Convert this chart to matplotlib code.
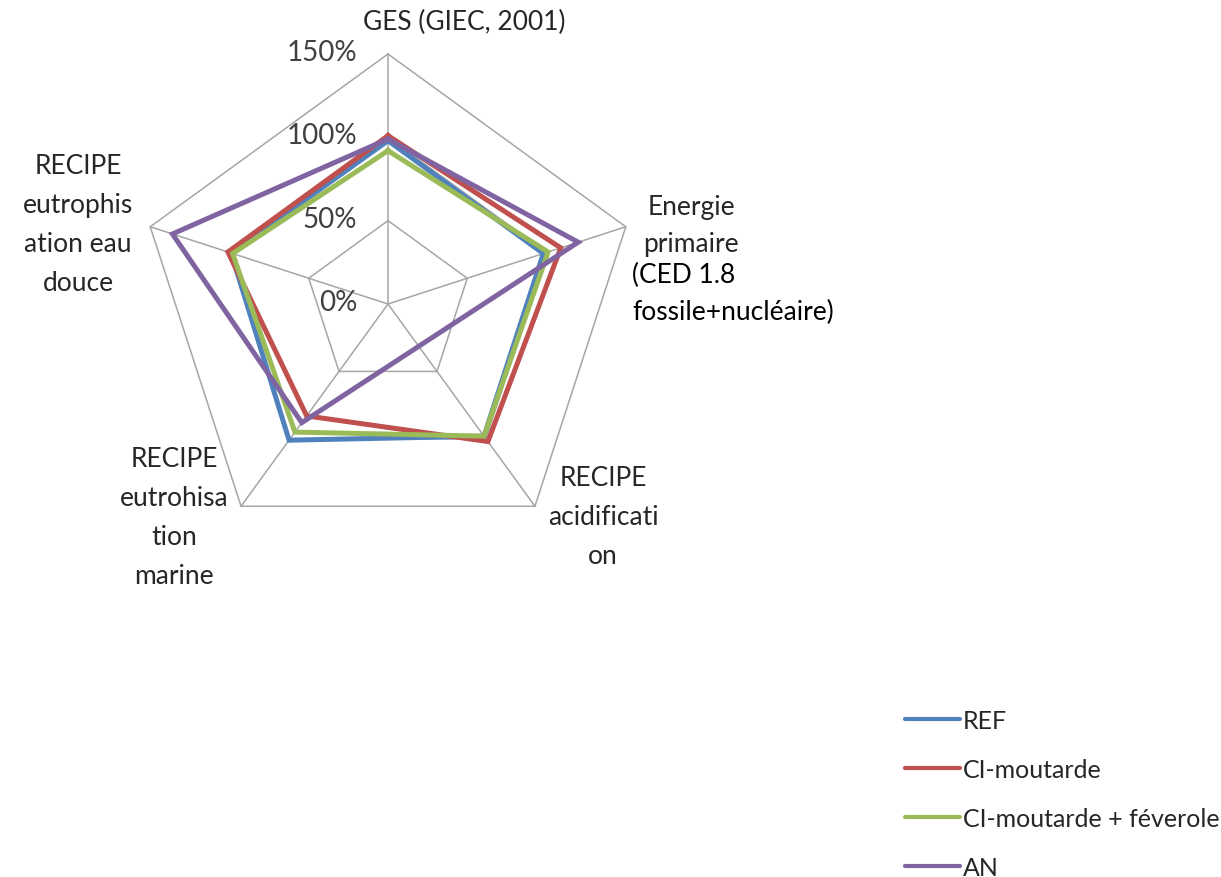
import numpy as np
import matplotlib.pyplot as plt

plt.rcParams['font.family'] = ['Lato', 'DejaVu Sans']

# impact categories, clockwise from the top
categories = ["GES", "Energie", "Acidification", "Eutro marine", "Eutro eau douce"]

# values relative to the reference scenario (%)
ref = [98, 98, 98, 101, 99]
ci_moutarde = [101, 109, 102, 83, 101]
ci_moutarde_feverole = [92, 101, 98, 95, 98]
an = [99, 120, np.nan, 88, 136]  # no acidification value for AN

series_names = ["REF", "CI-moutarde", "CI-moutarde + féverole", "AN"]
series_values = [ref, ci_moutarde, ci_moutarde_feverole, an]
colors = ["#4F81BD", "#C0504D", "#9BBB59", "#8064A2"]

rings = [0, 50, 100, 150]
ring_labels = ["0%", "50%", "100%", "150%"]

W, H = 1221, 878
cx, cy = 388, 305          # centre of the radar, in pixels
scale = 250 / 150          # pixels per percent


def at(x, y):
    # pixel position -> data coordinates
    return (x - cx) / scale, (cy - y) / scale


angles = np.pi / 2 - np.arange(len(categories)) * 2 * np.pi / len(categories)

fig = plt.figure(figsize=(W / 100, H / 100), dpi=100)
ax = fig.add_axes([0, 0, 1, 1])
ax.set_xlim(-cx / scale, (W - cx) / scale)
ax.set_ylim(-(H - cy) / scale, cy / scale)
ax.axis("off")

# pentagon grid and spokes
grid_col = "#A6A6A6"
for r in rings[1:]:
    a = np.append(angles, angles[0])
    ax.plot(r * np.cos(a), r * np.sin(a), color=grid_col, lw=1.1, zorder=1)
for a in angles:
    ax.plot([0, rings[-1] * np.cos(a)], [0, rings[-1] * np.sin(a)],
            color=grid_col, lw=1.1, zorder=1)

for r, lab in zip(rings, ring_labels):
    ax.text(-31 / scale, r + 1.2, lab, ha="right", va="center",
            fontsize=20, color="#404040")

# series, skipping missing values
for name, vals, col in zip(series_names, series_values, colors):
    vals = np.array(vals, dtype=float)
    ok = ~np.isnan(vals)
    v = np.append(vals[ok], vals[ok][0])
    a = np.append(angles[ok], angles[ok][0])
    ax.plot(v * np.cos(a), v * np.sin(a), color=col, lw=3.6,
            solid_joinstyle="miter", label=name, zorder=3)

txt = dict(fontsize=19, color="#262626", linespacing=1.7)
ax.text(*at(464, 22), "GES (GIEC, 2001)", ha="center", va="center", **txt)
ax.text(*at(691, 226), "Energie\nprimaire", ha="center", va="center",
        fontsize=19, color="#262626", linespacing=1.56)
ax.text(*at(632, 294), "(CED 1.8\nfossile+nucléaire)", ha="left", va="center",
        fontsize=19, color="black", linespacing=1.56)
ax.text(*at(603, 518), "RECIPE\nacidificati\non", ha="center", va="center", **txt)
ax.text(*at(174, 518), "RECIPE\neutrohisa\ntion\nmarine", ha="center", va="center", **txt)
ax.text(*at(78, 225), "RECIPE\neutrophis\nation eau\ndouce", ha="center", va="center", **txt)

ax.legend(loc="upper left", bbox_to_anchor=(905 / W, 1 - 710 / H),
          frameon=False, fontsize=18, handlelength=2.2, handletextpad=0.12,
          labelspacing=1.04, borderaxespad=0, borderpad=0,
          labelcolor="#262626")
for line in ax.get_legend().get_lines():
    line.set_linewidth(3)
    line.set_solid_capstyle("round")

fig.savefig("out.png", dpi=100)
